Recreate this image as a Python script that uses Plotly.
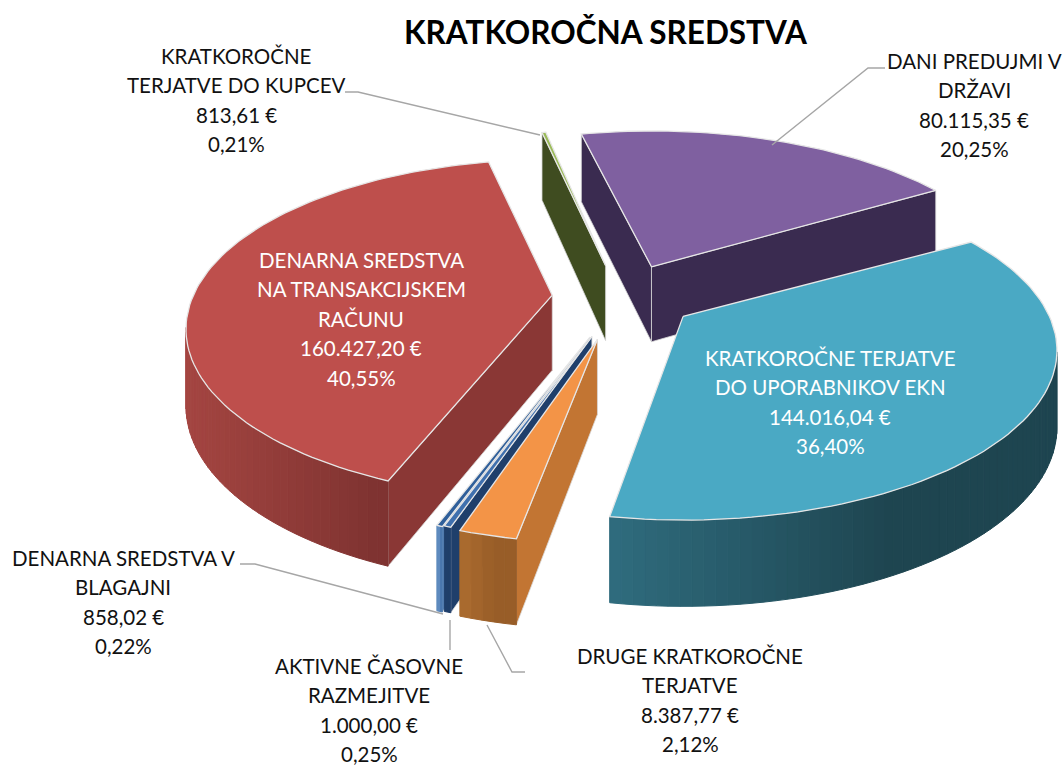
import math
import plotly.graph_objects as go

# ---- data ----
slice_names = ["DANI PREDUJMI V DRŽAVI", "KRATKOROČNE TERJATVE DO UPORABNIKOV EKN",
               "DRUGE KRATKOROČNE TERJATVE", "AKTIVNE ČASOVNE RAZMEJITVE",
               "DENARNA SREDSTVA V BLAGAJNI", "DENARNA SREDSTVA NA TRANSAKCIJSKEM RAČUNU",
               "KRATKOROČNE TERJATVE DO KUPCEV"]
slice_values = [80115.35, 144016.04, 8387.77, 1000.00, 858.02, 160427.20, 813.61]
slice_pulls = [0.21, 0.20, 0.255, 0.245, 0.25, 0.195, 0.205]
rim_trim_start = [-0.5, 0, -0.5, 0, 0, 1.6, 1.5]
rim_trim_end = [-1.0, -1.5, -0.5, 0, 0, 1.5, 1.5]
top_colors = ["#7F60A0", "#4AA9C4", "#F39447", "#3F70AE", "#2F5F9A", "#BE4F4C", "#9BBB59"]
radial_colors = ["#3A2B50", "#205867", "#C27533", "#1F3F6B", "#5B88BC", "#8A3735", "#3F4C20"]
arc_left_colors = ["#3A2B50", "#2F6C7E", "#AC6C2F", "#1F3F6B", "#6B96C8", "#A44541", "#3F4C20"]
arc_right_colors = ["#3A2B50", "#1E4550", "#985D28", "#1F3F6B", "#4A78AE", "#7F3331", "#3F4C20"]
label_lines = [
    ["DANI PREDUJMI V", "DRŽAVI", "80.115,35 €", "20,25%"],
    ["KRATKOROČNE TERJATVE", "DO UPORABNIKOV EKN", "144.016,04 €", "36,40%"],
    ["DRUGE KRATKOROČNE", "TERJATVE", "8.387,77 €", "2,12%"],
    ["AKTIVNE ČASOVNE", "RAZMEJITVE", "1.000,00 €", "0,25%"],
    ["DENARNA SREDSTVA V", "BLAGAJNI", "858,02 €", "0,22%"],
    ["DENARNA SREDSTVA", "NA TRANSAKCIJSKEM", "RAČUNU", "160.427,20 €", "40,55%"],
    ["KRATKOROČNE", "TERJATVE DO KUPCEV", "813,61 €", "0,21%"],
]
label_centers = [(974, 61), (830, 358), (690, 656), (369, 666), (123, 558), (361, 260), (236, 56)]
label_colors = ["#111111", "#FFFFFF", "#111111", "#111111", "#111111", "#FFFFFF", "#111111"]
chart_title = "KRATKOROČNA SREDSTVA"
leaders = [
    [(885, 68), (868, 68), (772, 145)],
    [(525, 672), (512, 672), (487, 625)],
    [(450, 650), (450, 620)],
    [(240, 564), (255, 564), (443, 614)],
    [(345, 92), (358, 92), (540, 135)],
]

# ---- projection of the tilted pie ----
CX, CY = 622, 297
RX, RY = 370, 163
SCALE_LEFT, SCALE_RIGHT = 0.97, 0.99
PERSP = 0.2
DEPTH = 75
START_DEG = -13.0
PAINT_ORDER = [6, 0, 5, 1, 4, 3, 2]


def proj(deg, radius=1.0):
    t = math.radians(deg)
    X, Y = math.sin(t) * radius, math.cos(t) * radius
    s = 1 / (1 + PERSP * Y)
    return RX * X * s * (SCALE_LEFT if X < 0 else SCALE_RIGHT), -RY * Y * s


def proj_s(deg):
    s = 1 / (1 + PERSP * math.cos(math.radians(deg)))
    return 1 + 0.6 * (s - 1)


def mix(c1, c2, f):
    f = max(0.0, min(1.0, f))
    a = [int(c1[i:i + 2], 16) for i in (1, 3, 5)]
    b = [int(c2[i:i + 2], 16) for i in (1, 3, 5)]
    return "#%02X%02X%02X" % tuple(round(p + (q - p) * f) for p, q in zip(a, b))


fig = go.Figure()


def poly(points, fill, line=None, width=1.0):
    xs = [p[0] for p in points] + [points[0][0]]
    ys = [p[1] for p in points] + [points[0][1]]
    fig.add_trace(go.Scatter(x=xs, y=ys, mode="lines", fill="toself", fillcolor=fill,
                             line=dict(color=line or fill, width=width),
                             hoverinfo="skip", showlegend=False))


def path(points, color, width):
    fig.add_trace(go.Scatter(x=[p[0] for p in points], y=[p[1] for p in points], mode="lines",
                             line=dict(color=color, width=width), hoverinfo="skip", showlegend=False))


total = sum(slice_values)
edges = [START_DEG]
for v in slice_values:
    edges.append(edges[-1] + 360 * v / total)

for i in PAINT_ORDER:
    t0, t1 = edges[i], edges[i + 1]
    mid = (t0 + t1) / 2
    dx, dy = proj(mid, slice_pulls[i])
    ax, ay = CX + dx, CY + dy
    t0 += rim_trim_start[i]
    t1 += rim_trim_end[i]
    steps = max(2, int((t1 - t0) / 1.5))
    degs = [t0 + (t1 - t0) * k / steps for k in range(steps + 1)]
    rim = [(ax + proj(d)[0], ay + proj(d)[1]) for d in degs]
    scales = [proj_s(d) for d in degs]
    apex = (ax, ay)

    def down(p, sc):
        return (p[0], p[1] + DEPTH * sc)

    # radial walls, drawn only when they face the viewer
    if rim[0][0] < apex[0]:
        poly([apex, rim[0], down(rim[0], scales[0]), down(apex, 1.0)], radial_colors[i], "#D8D8D8", 0.8)
    if apex[0] < rim[-1][0]:
        poly([rim[-1], apex, down(apex, 1.0), down(rim[-1], scales[-1])], radial_colors[i], "#D8D8D8", 0.8)
    # outer curved wall
    xs = [p[0] for p in rim]
    xmin, xmax = min(xs), max(xs)
    span = max(xmax - xmin, 1)
    for k in range(steps):
        p, q = rim[k], rim[k + 1]
        if q[0] < p[0]:
            f = ((p[0] + q[0]) / 2 - xmin) / span
            col = mix(arc_left_colors[i], arc_right_colors[i], f * 1.6)
            poly([p, q, down(q, scales[k + 1]), down(p, scales[k])], col)
    # top face
    poly([apex] + rim, top_colors[i], "#E6E6E6", 1.3)

for pts in leaders:
    path(pts, "#A6A6A6", 1.4)

LINE_STEP = 29.4
for lines, (lx, ly), col in zip(label_lines, label_centers, label_colors):
    for n, text in enumerate(lines):
        fig.add_annotation(x=lx, y=ly + n * LINE_STEP, text=text, showarrow=False,
                           xanchor="center", yanchor="middle",
                           font=dict(family="Lato", size=20.5, color=col))

fig.add_annotation(x=606, y=32, text="<b>%s</b>" % chart_title, showarrow=False,
                   xanchor="center", yanchor="middle",
                   font=dict(family="Lato", size=31.5, color="#000000"))

fig.update_layout(width=1063, height=766, margin=dict(l=0, r=0, t=0, b=0),
                  paper_bgcolor="white", plot_bgcolor="white", showlegend=False,
                  xaxis=dict(visible=False, range=[0, 1063], fixedrange=True),
                  yaxis=dict(visible=False, range=[766, 0], fixedrange=True))
fig.write_html("out.html", config={"displayModeBar": False},
               post_script="document.body.style.margin='0';document.body.style.overflow='hidden';")
